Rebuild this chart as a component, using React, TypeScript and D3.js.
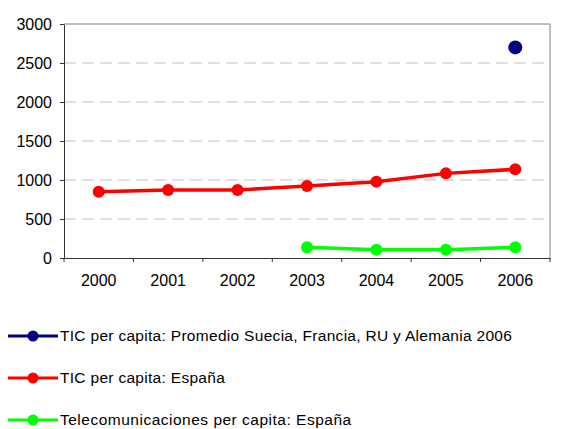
import React, { useEffect, useRef } from 'react'
import * as d3 from 'd3'

const years = ['2000', '2001', '2002', '2003', '2004', '2005', '2006']
const yTicks = [0, 500, 1000, 1500, 2000, 2500, 3000]
const promedio = [null, null, null, null, null, null, 2700]
const espana = [850, 872, 872, 923, 978, 1085, 1137]
const telecom = [null, null, null, 137, 106, 106, 137]

const seriesNames = [
  'TIC per capita: Promedio Suecia, Francia, RU y Alemania 2006',
  'TIC per capita: España',
  'Telecomunicaciones per capita: España',
]
const seriesColors = ['#000080', '#ff0000', '#00ff00']

const App = () => {
  const ref = useRef<SVGSVGElement>(null)

  useEffect(() => {
    const width = 573
    const height = 429
    const left = 64, right = 550, top = 24, bottom = 258
    const font = 'Liberation Sans, Arial, sans-serif'

    const svg = d3.select(ref.current)
    svg.selectAll('*').remove()

    const x = d3.scaleBand().domain(years).range([left, right])
    const y = d3.scaleLinear().domain([0, 3000]).range([bottom, top])

    // gridlines
    svg.append('g')
      .selectAll('line')
      .data(yTicks.filter((t) => t > 0 && t < 3000))
      .enter()
      .append('line')
      .attr('x1', left)
      .attr('x2', right)
      .attr('y1', (d) => y(d))
      .attr('y2', (d) => y(d))
      .style('stroke', '#c0c0c0')
      .style('stroke-width', 1)
      .style('stroke-dasharray', '12,6')

    // frame top/right
    svg.append('path')
      .attr('d', `M${left},${top}H${right}V${bottom}`)
      .style('fill', 'none')
      .style('stroke', '#808080')
      .style('stroke-width', 1)

    // y axis
    const yAxis = svg.append('g')
      .attr('transform', `translate(${left},0)`)
      .call(d3.axisLeft(y).tickValues(yTicks).tickFormat(d3.format('d')).tickSize(4).tickSizeOuter(0).tickPadding(8))
    yAxis.select('.domain').style('stroke', '#333')
    yAxis.selectAll('line').style('stroke', '#333')
    yAxis.selectAll('text')
      .style('font-family', font)
      .style('font-size', '16px')
      .style('fill', '#000')

    // x axis
    const xAxis = svg.append('g')
      .attr('transform', `translate(0,${bottom})`)
      .call(d3.axisBottom(x).tickSize(0).tickPadding(17))
    xAxis.select('.domain').style('stroke', '#333')
    xAxis.selectAll('text')
      .style('font-family', font)
      .style('font-size', '16px')
      .style('fill', '#000')
    svg.append('g')
      .selectAll('line')
      .data(years.concat(['end']))
      .enter()
      .append('line')
      .attr('x1', (d, i) => left + i * x.step())
      .attr('x2', (d, i) => left + i * x.step())
      .attr('y1', bottom)
      .attr('y2', bottom + 4)
      .style('stroke', '#333')

    const cx = (i: number) => (x(years[i]) as number) + x.bandwidth() / 2
    const allSeries = [promedio, espana, telecom]
    const radii = [7, 6, 6]

    allSeries.forEach((s, k) => {
      const pts = s
        .map((v, i) => ({ v, i }))
        .filter((p) => p.v !== null) as { v: number; i: number }[]
      const line = d3.line<{ v: number; i: number }>()
        .x((d) => cx(d.i))
        .y((d) => y(d.v))
      svg.append('path')
        .datum(pts)
        .attr('d', line)
        .style('fill', 'none')
        .style('stroke', seriesColors[k])
        .style('stroke-width', 3.5)
      svg.append('g')
        .selectAll('circle')
        .data(pts)
        .enter()
        .append('circle')
        .attr('cx', (d) => cx(d.i))
        .attr('cy', (d) => y(d.v))
        .attr('r', radii[k])
        .style('fill', seriesColors[k])
    })

    // legend
    const legend = svg.append('g')
    seriesNames.forEach((name, k) => {
      const ly = 336 + k * 42
      legend.append('line')
        .attr('x1', 8).attr('x2', 58)
        .attr('y1', ly).attr('y2', ly)
        .style('stroke', seriesColors[k])
        .style('stroke-width', 3)
      legend.append('circle')
        .attr('cx', 33).attr('cy', ly).attr('r', 5.5)
        .style('fill', seriesColors[k])
      legend.append('text')
        .attr('x', 60).attr('y', ly + 5)
        .text(name)
        .style('font-family', font)
        .style('font-size', '15.5px')
        .style('letter-spacing', k === 2 ? '0.5px' : '0.3px')
        .style('fill', '#000')
    })

    svg.attr('width', width).attr('height', height)
  }, [])

  return (
    <svg
      ref={ref}
      width={573}
      height={429}
      style={{ position: 'absolute', left: 0, top: 0, background: '#fff' }}
    />
  )
}

export default App
